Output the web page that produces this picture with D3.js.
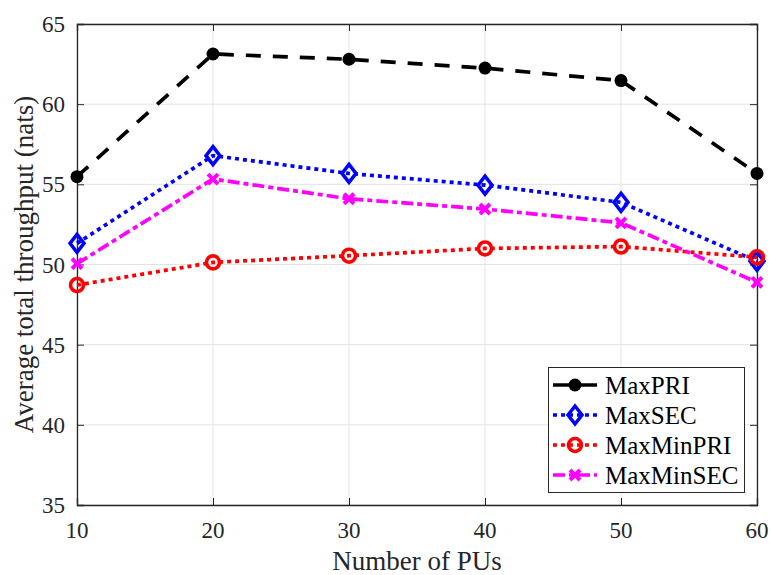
<!DOCTYPE html>
<html><head><meta charset="utf-8">
<script src="https://cdn.jsdelivr.net/npm/d3@7"></script>
<style>body{margin:0;background:#fff}svg{display:block}
text{font-family:"Liberation Serif","Times New Roman",serif}</style>
</head><body>
<script>
const numPUs = [10, 20, 30, 40, 50, 60];
const maxPRI = [55.48, 63.13, 62.8, 62.25, 61.47, 55.68];
const maxSEC = [51.32, 56.79, 55.68, 54.95, 53.88, 50.2];
const maxMinPRI = [48.72, 50.13, 50.55, 51.0, 51.12, 50.45];
const maxMinSEC = [50.05, 55.33, 54.1, 53.46, 52.6, 48.89];
const seriesNames = ["MaxPRI", "MaxSEC", "MaxMinPRI", "MaxMinSEC"];
const xTicks = [10, 20, 30, 40, 50, 60];
const yTicks = [35, 40, 45, 50, 55, 60, 65];

const W = 771, H = 575;
const m = {l: 77, r: 14, t: 24, b: 70};
const svg = d3.select("body").append("svg").attr("width", W).attr("height", H);
const x = d3.scaleLinear().domain([10, 60]).range([m.l, W - m.r]);
const y = d3.scaleLinear().domain([35, 65]).range([H - m.b, m.t]);
const axisColor = "#262626";

// grid
svg.append("g").selectAll("line").data(xTicks).join("line")
  .attr("x1", d => x(d)).attr("x2", d => x(d)).attr("y1", y(35)).attr("y2", y(65))
  .attr("stroke", "#e3e3e3").attr("stroke-width", 1);
svg.append("g").selectAll("line").data(yTicks).join("line")
  .attr("y1", d => y(d)).attr("y2", d => y(d)).attr("x1", x(10)).attr("x2", x(60))
  .attr("stroke", "#e3e3e3").attr("stroke-width", 1);

// axes (lines and ticks)
const gx = svg.append("g").attr("transform", `translate(0,${y(35)})`)
  .call(d3.axisBottom(x).tickValues(xTicks).tickSize(-7).tickFormat(""));
const gxTop = svg.append("g").attr("transform", `translate(0,${y(65)})`)
  .call(d3.axisTop(x).tickValues(xTicks).tickSize(-7).tickFormat(""));
const gy = svg.append("g").attr("transform", `translate(${x(10)},0)`)
  .call(d3.axisLeft(y).tickValues(yTicks).tickSize(-7).tickFormat(""));
const gyR = svg.append("g").attr("transform", `translate(${x(60)},0)`)
  .call(d3.axisRight(y).tickValues(yTicks).tickSize(-7).tickFormat(""));
[gx, gxTop, gy, gyR].forEach(g => {
  g.select(".domain").attr("stroke", axisColor).attr("stroke-width", 1.3);
  g.selectAll(".tick line").attr("stroke", axisColor).attr("stroke-width", 1);
});

// tick labels
const fs = 23;
svg.append("g").selectAll("text").data(xTicks).join("text")
  .attr("x", d => x(d)).attr("y", 537.5).attr("text-anchor", "middle")
  .attr("font-size", fs).attr("fill", axisColor).text(d => d);
svg.append("g").selectAll("text").data(yTicks).join("text")
  .attr("x", x(10) - 12).attr("y", d => y(d) + 8).attr("text-anchor", "end")
  .attr("font-size", fs).attr("fill", axisColor).text(d => d);

// labels
svg.append("text").attr("x", (x(10) + x(60)) / 2).attr("y", 570).attr("text-anchor", "middle")
  .attr("font-size", 27).attr("fill", axisColor).text("Number of PUs");
svg.append("text").attr("transform", `translate(33,${(y(35) + y(65)) / 2}) rotate(-90)`)
  .attr("text-anchor", "middle").attr("font-size", 27).attr("fill", axisColor)
  .text("Average total throughput (nats)");

const series = [
  {name: seriesNames[0], vals: maxPRI, color: "#000000", dash: "15,12", marker: "dot"},
  {name: seriesNames[1], vals: maxSEC, color: "#0000ff", dash: "4,4", marker: "diamond"},
  {name: seriesNames[2], vals: maxMinPRI, color: "#ff0000", dash: "4,4", marker: "circle"},
  {name: seriesNames[3], vals: maxMinSEC, color: "#ff00ff", dash: "12,4,5,4", marker: "cross"}
];

function drawMarker(g, type, color, cx, cy) {
  if (type === "dot") {
    g.append("circle").attr("cx", cx).attr("cy", cy).attr("r", 6.5).attr("fill", color);
  } else if (type === "diamond") {
    g.append("path").attr("d", `M${cx},${cy - 9}L${cx + 7},${cy}L${cx},${cy + 9}L${cx - 7},${cy}Z`)
      .attr("fill", "none").attr("stroke", color).attr("stroke-width", 3.5);
  } else if (type === "circle") {
    g.append("circle").attr("cx", cx).attr("cy", cy).attr("r", 6.5)
      .attr("fill", "none").attr("stroke", color).attr("stroke-width", 3.6);
  } else if (type === "cross") {
    const s = 5;
    g.append("path").attr("d", `M${cx - s},${cy - s}L${cx + s},${cy + s}M${cx - s},${cy + s}L${cx + s},${cy - s}`)
      .attr("stroke", color).attr("stroke-width", 4);
  }
}

const line = d3.line().x((d, i) => x(numPUs[i])).y(d => y(d));
series.forEach(s => {
  svg.append("path").datum(s.vals).attr("d", line).attr("fill", "none")
    .attr("stroke", s.color).attr("stroke-width", 3.7).attr("stroke-dasharray", s.dash);
  const g = svg.append("g");
  s.vals.forEach((v, i) => drawMarker(g, s.marker, s.color, x(numPUs[i]), y(v)));
});

// legend
const lg = svg.append("g");
lg.append("rect").attr("x", 548.5).attr("y", 367.5).attr("width", 196).attr("height", 125)
  .attr("fill", "#fff").attr("stroke", axisColor).attr("stroke-width", 1);
series.forEach((s, i) => {
  const ly = 385 + i * 30;
  lg.append("line").attr("x1", 553).attr("x2", 597).attr("y1", ly).attr("y2", ly)
    .attr("stroke", s.color).attr("stroke-width", 3.7)
    .attr("stroke-dasharray", s.marker === "dot" ? null : s.dash);
  drawMarker(lg, s.marker, s.color, 575, ly);
  lg.append("text").attr("x", 605).attr("y", ly + 8.5).attr("font-size", 25)
    .attr("fill", "#000").text(s.name);
});
</script>
</body></html>
